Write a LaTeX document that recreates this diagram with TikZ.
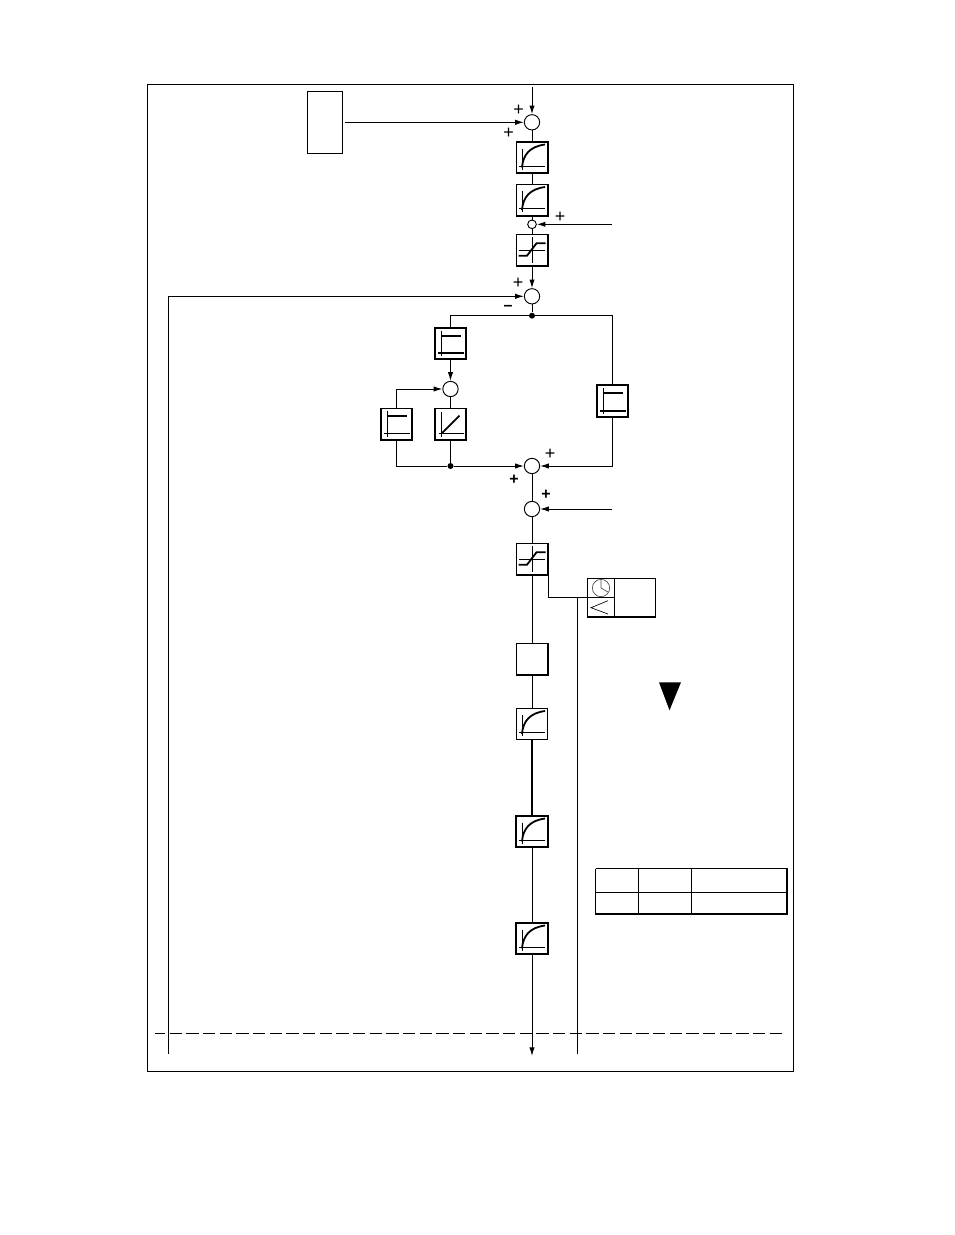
\documentclass[tikz,border=0pt]{standalone}
\usepackage{fontspec}
\newfontfamily\markfont{Liberation Sans}
\usetikzlibrary{arrows.meta}

\tikzset{
	wire/.style={line width=0.75pt},
	sigarrow/.style={wire,-{Latex[length=6.5pt,width=4pt]}},
	sumnode/.style={circle,draw,line width=0.7pt,inner sep=0pt,minimum size=11.5pt},
	tapdot/.style={circle,fill=black,inner sep=0pt,minimum size=4.5pt},
	block/.style={rectangle,draw,inner sep=0pt,minimum size=23.5pt,line width=1.25pt},
	thinblock/.style={block,line width=0.7pt},
	heavyblock/.style={block,line width=1.6pt},
	signmark/.style={inner sep=0pt,font=\markfont\fontsize{13.5}{13.5}\selectfont},
	boldmark/.style={inner sep=0pt,font=\markfont\bfseries\fontsize{12}{12}\selectfont},
	axisline/.style={line width=0.55pt},
	trace/.style={line width=1.35pt}
}

\begin{document}
\begin{tikzpicture}[x=0.75pt,y=0.75pt,yscale=-1,xscale=1]
	\useasboundingbox (0,0) rectangle (954,1235);

	%Shape: outer frame
	\draw [wire] (147.7,84.7) rectangle (793.7,1071.5);

	%Summing points
	\node [sumnode] (sumA) at (532,122.3) {};
	\node [sumnode,minimum size=6.5pt] (sumSmall) at (532,224.3) {};
	\node [sumnode] (sumB) at (532,296.3) {};
	\node [sumnode] (sumC) at (450.5,389) {};
	\node [sumnode] (sumD) at (532,466) {};
	\node [sumnode] (sumE) at (532,509) {};

	%Blocks
	\node [rectangle,draw,line width=0.9pt,inner sep=0pt,minimum width=26.5pt,minimum height=46.5pt] (srcBox) at (325,122.3) {};
	\node [block] (lagA) at (532,157.5) {};
	\node [block] (lagB) at (532,200) {};
	\node [block] (satA) at (532,250) {};
	\node [heavyblock] (stepA) at (450.5,343.3) {};
	\node [block] (stepB) at (396.5,424) {};
	\node [block] (rampA) at (450.5,424) {};
	\node [heavyblock] (stepC) at (612.5,401) {};
	\node [block] (satB) at (532,559) {};
	\node [block] (plainA) at (532,659) {};
	\node [thinblock] (lagC) at (532,724) {};
	\node [heavyblock] (lagD) at (532,831.5) {};
	\node [heavyblock] (lagE) at (532,938.5) {};
	\node [rectangle,draw,line width=0.75pt,inner sep=0pt,minimum width=51.3pt,minimum height=29pt] (timerA) at (621.5,597.6) {};

	%Tap points
	\node [tapdot] (tapA) at (532,315.7) {};
	\node [tapdot] (tapB) at (450.5,466) {};

	%Free ends
	\coordinate (inTop) at (532,87);
	\coordinate (inSmall) at (612,224.3);
	\coordinate (inE) at (612,509);
	\coordinate (outEnd) at (532,1056);
	\coordinate (fbTop) at (168.5,296.3);
	\coordinate (fbEnd) at (168.5,1054);
	\coordinate (tapC) at (577.5,597.6);
	\coordinate (tapEnd) at (577.5,1054);
	\coordinate (dashL) at (155,1033);
	\coordinate (dashR) at (782,1033);

	%Curve glyphs
	\foreach \blk in {lagA,lagB,lagC,lagD,lagE} {
		\begin{scope}[shift={(\blk.center)}]
			\draw [axisline] (-10,-9) -- (-10,12) (-13,8.7) -- (13,8.7);
			\draw [trace] (-10,10) .. controls (-9,-3) and (-2,-11) .. (13,-13);
		\end{scope}
	}
	%Limiter glyphs
	\foreach \blk in {satA,satB} {
		\begin{scope}[shift={(\blk.center)}]
			\draw [axisline] (0,-13) -- (0,13) (-13,0) -- (13,0);
			\draw [trace] (-13.5,5.7) -- (-5,5.7) -- (4.5,-6.7) -- (13.5,-6.7);
		\end{scope}
	}
	%Step glyphs
	\foreach \blk/\bw in {stepA/1.35pt,stepB/0.55pt,stepC/1.35pt} {
		\begin{scope}[shift={(\blk.center)}]
			\draw [axisline] (-9,-12.7) -- (-9,13);
			\draw [line width=\bw] (-12.5,9.7) -- (13.3,9.7);
			\draw [trace] (-9,-7.7) -- (10,-7.7);
		\end{scope}
	}
	%Ramp glyph
	\begin{scope}[shift={(rampA.center)}]
		\draw [axisline] (-8.7,-12) -- (-8.7,13) (-12,9.3) -- (13,9.3);
		\draw [trace] (-8.7,9.3) -- (9,-8.3);
	\end{scope}

	%Timer box
	\draw [line width=1.2pt] (timerA.south west) -- (timerA.south east);
	\draw [wire] (614.3,578.3) -- (614.3,617) (587.3,597.6) -- (614.3,597.6);
	\node [circle,draw=black!70,line width=0.5pt,inner sep=0pt,minimum size=13pt] (clockA) at (601,588) {};
	\draw [black!70,line width=0.5pt] (clockA.center) -- (clockA.north) (clockA.center) -- (608,592);
	\draw [line width=0.5pt] (608,600.7) -- (591,607.7) -- (608,614);

	%Connectors
	\draw [sigarrow] (inTop) -- (sumA);
	\draw [sigarrow,shorten <=1pt] (srcBox) -- (sumA);
	\draw [wire] (sumA) -- (lagA);
	\draw [wire] (lagA) -- (lagB);
	\draw [wire] (lagB) -- (sumSmall);
	\draw [sigarrow] (inSmall) -- (sumSmall);
	\draw [wire] (sumSmall) -- (satA);
	\draw [sigarrow] (satA) -- (sumB);
	\draw [wire] (fbEnd) -- (fbTop);
	\draw [sigarrow] (fbTop) -- (sumB);
	\draw [wire] (sumB) -- (tapA);
	\draw [wire] (tapA) -| (stepA);
	\draw [wire] (tapA) -| (stepC);
	\draw [sigarrow] (stepA) -- (sumC);
	\draw [sigarrow] (stepB) |- (sumC);
	\draw [wire] (rampA) -- (sumC);
	\draw [wire] (rampA) -- (tapB);
	\draw [wire] (stepB) |- (tapB);
	\draw [sigarrow] (tapB) -- (sumD);
	\draw [sigarrow] (stepC) |- (sumD);
	\draw [wire] (sumD) -- (sumE);
	\draw [sigarrow] (inE) -- (sumE);
	\draw [wire] (sumE) -- (satB);
	\draw [wire] (satB) -- (plainA);
	\draw [line width=1.1pt] (satB.south east) |- (timerA.west);
	\draw [wire] (tapC) -- (tapEnd);
	\draw [wire] (plainA) -- (lagC);
	\draw [line width=1.5pt] (lagC) -- (lagD);
	\draw [wire] (lagD) -- (lagE);
	\draw [sigarrow] (lagE) -- (outEnd);

	%Straight Lines: dashed boundary
	\draw [wire,dash pattern={on 9.2pt off 3.3pt},dash phase=1.5pt] (dashL) -- (dashR);

	%Shape: warning triangle
	\fill (659,682.3) -- (681,682.3) -- (669.5,710.3) -- cycle;

	%Shape: table
	\draw [wire] (595.7,868.7) -- (787,868.7) (595.7,892.3) -- (787,892.3);
	\draw [wire] (595.7,868.7) -- (595.7,913.7) (638.3,868.7) -- (638.3,913.7) (691.7,868.7) -- (691.7,913.7);
	\draw [line width=1.3pt] (595.2,913.7) -- (787,913.7) -- (787,868.2);

	% Text Node
	\node [signmark] (plusA) at (518.5,110) {+};
	\node [signmark] (plusB) at (508.5,133) {+};
	\node [signmark] (plusC) at (560,217) {+};
	\node [signmark] (plusD) at (518,283) {+};
	\node [signmark] (plusE) at (550,454) {+};
	\node [boldmark] (plusF) at (514,480) {+};
	\node [boldmark] (plusG) at (546,495) {+};
	\node [boldmark] (minusA) at (508,308) {–};
\end{tikzpicture}
\end{document}
